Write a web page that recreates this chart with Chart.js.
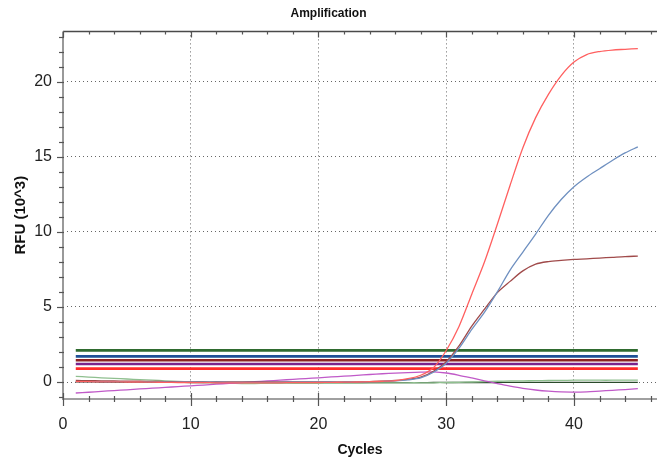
<!DOCTYPE html>
<html>
<head>
<meta charset="utf-8">
<script src="https://cdn.jsdelivr.net/npm/chart.js@4/dist/chart.umd.min.js"></script>
<style>
  html, body { margin: 0; padding: 0; background: #fff; }
  #wrap { width: 657px; height: 463px; }
</style>
</head>
<body>
<div id="wrap"><canvas id="amp"></canvas></div>
<script>
const cycles = [1,2,3,4,5,6,7,8,9,10,11,12,13,14,15,16,17,18,19,20,21,22,23,24,25,26,27,28,29,30,31,32,33,34,35,36,37,38,39,40,41,42,43,44,45];

const redCurve = [0.02,0.02,0.01,0.01,0,0,-0.01,-0.02,-0.03,-0.03,-0.04,-0.05,-0.05,-0.05,-0.05,-0.05,-0.05,-0.04,-0.04,-0.03,-0.02,-0.01,0,0.02,0.05,0.1,0.22,0.45,0.95,2.1,3.7,5.85,8.0,10.5,13.1,15.6,17.6,19.15,20.4,21.3,21.8,22.0,22.1,22.15,22.2];
const blueCurve = [0.03,0.03,0.02,0.02,0.02,0.01,0.01,0,0,0,-0.01,-0.01,-0.02,-0.02,-0.02,-0.02,-0.02,-0.01,-0.01,0,0,0.01,0.01,0.02,0.04,0.08,0.15,0.27,0.65,1.25,2.25,3.5,4.65,6.0,7.45,8.65,9.85,11.1,12.15,13.0,13.65,14.2,14.75,15.25,15.65];
const maroonCurve = [0.1,0.09,0.08,0.07,0.06,0.05,0.04,0.03,0.02,0.01,0,0,0,0,0,0,0,0,0,0,0,0,0.01,0.03,0.05,0.1,0.18,0.32,0.72,1.35,2.4,3.72,4.85,5.95,6.7,7.4,7.85,8.02,8.1,8.16,8.2,8.25,8.3,8.35,8.38];
const purpleCurve = [-0.73,-0.68,-0.62,-0.57,-0.52,-0.46,-0.41,-0.36,-0.3,-0.25,-0.2,-0.14,-0.09,-0.04,0.02,0.07,0.12,0.18,0.23,0.28,0.34,0.39,0.44,0.5,0.55,0.59,0.63,0.66,0.67,0.6,0.45,0.27,0.08,-0.1,-0.27,-0.42,-0.53,-0.61,-0.66,-0.67,-0.65,-0.6,-0.55,-0.5,-0.44];
const greenCurve = [0.38,0.33,0.28,0.24,0.2,0.16,0.12,0.08,0.04,0,-0.04,-0.07,-0.09,-0.1,-0.1,-0.09,-0.08,-0.08,-0.08,-0.08,-0.07,-0.07,-0.07,-0.06,-0.06,-0.06,-0.05,-0.05,-0.05,-0.04,-0.02,0,0.03,0.05,0.07,0.08,0.09,0.1,0.11,0.12,0.12,0.12,0.12,0.13,0.13];
const darkGreenCurve = [0.01,0.01,0,0,0,-0.01,-0.01,-0.02,-0.02,-0.03,-0.03,-0.03,-0.04,-0.04,-0.04,-0.04,-0.04,-0.04,-0.04,-0.04,-0.04,-0.04,-0.04,-0.04,-0.04,-0.04,-0.04,-0.04,-0.03,-0.03,-0.03,-0.03,-0.03,-0.03,-0.02,-0.02,-0.02,-0.02,-0.02,-0.02,-0.02,-0.02,-0.02,-0.02,-0.02];

// threshold lines (green, blue, maroon, purple, red)
const thresholds = [2.11, 1.71, 1.45, 1.2, 0.89];
const thresholdColors = ['#2f6b2f', '#1f5096', '#8c2020', '#7a228c', '#ff2a2a'];

const xTicks = [0, 10, 20, 30, 40];
const yTicks = [0, 5, 10, 15, 20];

const sans = "'Liberation Sans', Arial, sans-serif";

const pts = arr => cycles.map((c, i) => ({ x: c, y: arr[i] }));

const curve = (arr, color) => ({
  data: pts(arr), borderColor: color, borderWidth: 1.3,
  pointRadius: 0, tension: 0.3, order: 1
});

const datasets = [
  curve(redCurve, '#ff6060'),
  curve(blueCurve, '#6f90c0'),
  curve(maroonCurve, '#a04a4a'),
  curve(purpleCurve, '#c05ac8'),
  curve(greenCurve, '#8fbf8f'),
  curve(darkGreenCurve, '#2a4a2a')
];
thresholds.forEach((t, i) => {
  datasets.push({
    data: [{ x: cycles[0], y: t }, { x: cycles[cycles.length - 1], y: t }],
    borderColor: thresholdColors[i], borderWidth: 2.6, pointRadius: 0, order: 2
  });
});

// axis frame and minor/major tick marks
const frame = {
  id: 'frame',
  afterDraw(chart) {
    const { ctx, chartArea: a, scales: { x, y } } = chart;
    ctx.save();
    ctx.strokeStyle = '#4a4a4a';
    ctx.lineWidth = 1.5;
    ctx.beginPath();
    ctx.moveTo(a.left, a.top); ctx.lineTo(a.right, a.top);
    ctx.stroke();
    ctx.strokeStyle = '#999';
    ctx.lineWidth = 2;
    ctx.beginPath();
    ctx.moveTo(a.left, a.top); ctx.lineTo(a.left, a.bottom + 1);
    ctx.stroke();
    ctx.strokeStyle = '#808080';
    ctx.lineWidth = 1.5;
    ctx.beginPath();
    ctx.moveTo(a.left, a.bottom); ctx.lineTo(a.right, a.bottom);
    ctx.stroke();

    ctx.lineWidth = 1.2;
    ctx.strokeStyle = '#555';
    for (let v = 0; v <= x.max; v += 2) {
      const px = Math.round(x.getPixelForValue(v)) + 0.5;
      const major = v % 10 === 0;
      ctx.beginPath();
      ctx.moveTo(px, a.bottom - (major ? 6 : 3));
      ctx.lineTo(px, a.bottom + (major ? 7 : 3));
      ctx.moveTo(px, a.top);
      ctx.lineTo(px, a.top + (major ? 6 : 3));
      ctx.stroke();
    }
    for (let v = -1; v <= y.max; v += 1) {
      const py = Math.round(y.getPixelForValue(v)) + 0.5;
      const major = v % 5 === 0;
      ctx.beginPath();
      ctx.moveTo(a.left - (major ? 6 : 4), py);
      ctx.lineTo(a.left + 1, py);
      ctx.stroke();
    }
    ctx.restore();
  }
};

const gridColor = (list, skipZero) => c =>
  (c.tick && list.includes(c.tick.value) && !(skipZero && c.tick.value === 0)) ? '#666' : 'rgba(0,0,0,0)';

new Chart(document.getElementById('amp'), {
  type: 'line',
  data: { datasets },
  options: {
    responsive: true,
    maintainAspectRatio: false,
    animation: false,
    layout: { padding: 0 },
    plugins: {
      legend: { display: false },
      tooltip: { enabled: false },
      title: {
        display: true, text: 'Amplification', color: '#111',
        font: { family: sans, size: 12, weight: 'bold', lineHeight: 1.2 },
        padding: { top: 6, bottom: 11 }
      }
    },
    scales: {
      x: {
        type: 'linear', min: 0, max: 46.5,
        afterBuildTicks: s => { s.ticks = xTicks.map(v => ({ value: v })); },
        afterFit: s => { s.height = 64; },
        grid: { color: gridColor(xTicks, true), lineWidth: 1, drawTicks: false },
        border: { display: false, dash: [1, 3] },
        ticks: { color: '#222', padding: 16, maxRotation: 0, font: { family: sans, size: 16 } },
        title: {
          display: true, text: 'Cycles', color: '#111',
          font: { family: sans, size: 14, weight: 'bold', lineHeight: 1.2 },
          padding: { top: 0, bottom: 4 }
        }
      },
      y: {
        min: -1.13, max: 23.34,
        afterBuildTicks: s => { s.ticks = yTicks.map(v => ({ value: v })); },
        afterFit: s => { s.width = 63; },
        grid: { color: gridColor(yTicks, false), lineWidth: 1, drawTicks: false },
        border: { display: false, dash: [1, 3] },
        ticks: { color: '#222', padding: 11, font: { family: sans, size: 16 } },
        title: {
          display: true, text: 'RFU (10^3)', color: '#111',
          font: { family: sans, size: 15, weight: 'bold', lineHeight: 1.2 },
          padding: { top: 12, bottom: 0 }
        }
      }
    }
  },
  plugins: [frame]
});
</script>
</body>
</html>
